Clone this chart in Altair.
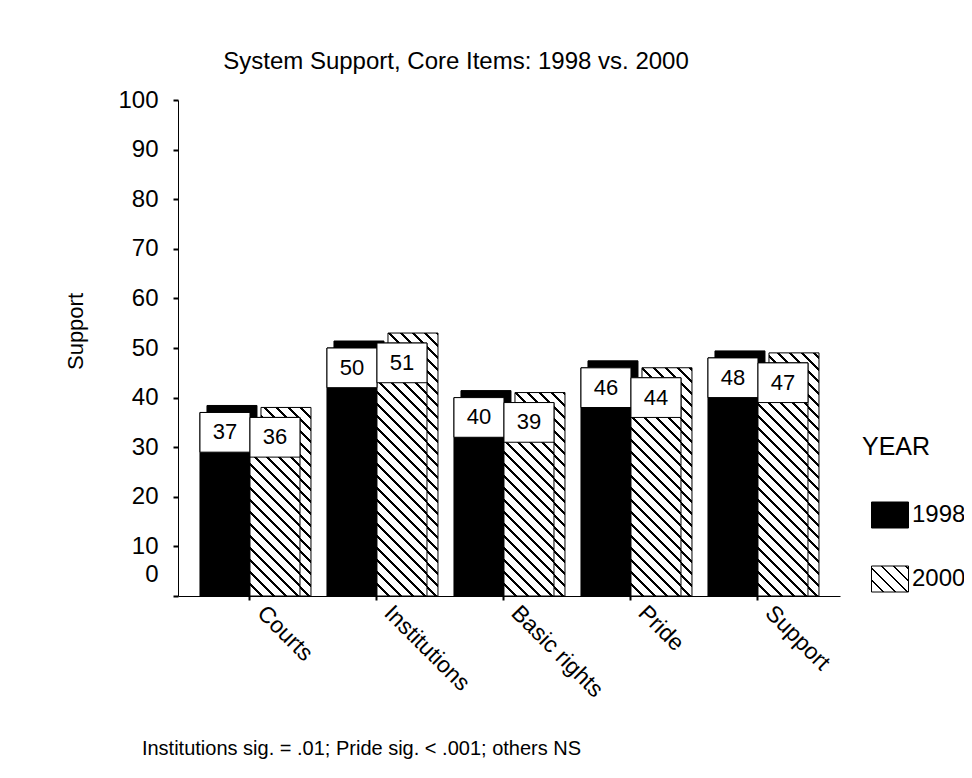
import math
import json
import altair as alt
import pandas as pd

# ---------------- data ----------------
categories = ["Courts", "Institutions", "Basic rights", "Pride", "Support"]
support_1998 = [37, 50, 40, 46, 48]
support_2000 = [36, 51, 39, 44, 47]
years = ["1998", "2000"]
y_tick_values = list(range(0, 101, 5))
title_text = "System Support, Core Items: 1998 vs. 2000"
footnote_text = "Institutions sig. = .01; Pride sig. < .001; others NS"

rows = []
for c, a, b in zip(categories, support_1998, support_2000):
    rows.append({"item": c, "year": "1998", "support": a})
    rows.append({"item": c, "year": "2000", "support": b})
df = pd.DataFrame(rows)

# ---------------- geometry / style ----------------
W, H = 662, 496
PX = H / 100.0          # pixels per unit
BAR_W = 50
BOX_UNITS = 8           # height of white value box, in data units
D98 = (7, 7)            # 3-D depth (right, up) of the 1998 bars, px
D00 = (11, 10)          # 3-D depth (right, up) of the 2000 bars, px
FONT = "Liberation Sans"


def hatch(w, h, period=12.0, lw=1.5):
    """Back-slash hatching drawn as a linear gradient (bounding-box units)."""
    k = (w + h) / (w * w + h * h)
    D = (w + h) / math.sqrt(2)
    P = period / math.sqrt(2)
    hw = lw / 2.0 / D
    stops = [{"offset": 0, "color": "white"}]
    j = 1
    while j * P < D:
        c = j * P / D
        lo, hi = round(max(c - hw, 0), 5), round(min(c + hw, 1), 5)
        stops += [
            {"offset": lo, "color": "white"},
            {"offset": lo, "color": "black"},
            {"offset": hi, "color": "black"},
            {"offset": hi, "color": "white"},
        ]
        j += 1
    stops.append({"offset": 1, "color": "white"})
    return {"gradient": "linear", "x1": 0, "y1": 1,
            "x2": round(w * k, 5), "y2": round(1 - h * k, 5), "stops": stops}


def fill_2000(extra_h, first=None):
    conds = [] if first is None else [first]
    for c, v in zip(categories, support_2000):
        conds.append({"test": f"datum.item === '{c}'",
                      "value": hatch(BAR_W, v * PX + extra_h)})
    return {"condition": conds, "value": "white"}


x_scale = alt.Scale(domain=categories, paddingInner=0.2126,
                    paddingOuter=0.2126, align=0.407)
y_scale = alt.Scale(domain=[0, 100], nice=False, zero=True)

x_axis = alt.Axis(
    labelAngle=45, labelAlign="left", labelBaseline="middle",
    labelFontSize=23, labelFont=FONT, labelColor="black", labelPadding=9,
    labelOffset=11,
    tickSize=4, tickWidth=2, tickColor="black",
    domainColor="black", domainWidth=1,
    title=footnote_text, titleFont=FONT, titleFontSize=20,
    titleFontWeight="normal", titleColor="black",
    titleX=183, titleY=152, titleAlign="center", titleBaseline="middle",
)
y_axis = alt.Axis(
    values=y_tick_values,
    labelExpr="datum.value % 10 === 0 ? datum.label : ''",
    labelFontSize=24, labelFont=FONT, labelColor="black", labelPadding=15,
    labelOffset={"condition": {"test": "datum.value === 0", "value": -22}, "value": 0},
    tickSize={"condition": {"test": "datum.value % 10 === 0", "value": 5}, "value": 3},
    tickWidth={"condition": {"test": "datum.value % 10 === 0", "value": 2}, "value": 1},
    tickColor="black", domainColor="black", domainWidth=1, grid=False,
    title="Support", titleFont=FONT, titleFontSize=22, titleFontWeight="normal",
    titleColor="black", titleAngle=270, titleX=-103, titleY=231,
    titleAlign="center", titleBaseline="middle",
)

base = alt.Chart(df)
X = alt.X("item:N", sort=categories, scale=x_scale, axis=x_axis)
XN = alt.X("item:N", sort=categories, scale=x_scale)
YN = alt.Y("support:Q", scale=y_scale, stack=None)
XOFF = alt.XOffset("year:N", sort=years,
                   scale=alt.Scale(domain=years, paddingInner=0, paddingOuter=0))

# back (depth) faces: raised through the y scale, shifted right
back98 = base.transform_filter("datum.year === '1998'").transform_calculate(
    top=f"datum.support + {D98[1] / PX}"
).mark_bar(
    width=BAR_W, xOffset=-BAR_W / 2 + D98[0],
    fill="black", stroke="black", strokeWidth=1
).encode(x=X, y=alt.Y("top:Q", scale=y_scale, stack=None, axis=y_axis), y2=alt.datum(0))

back00 = base.transform_filter("datum.year === '2000'").transform_calculate(
    top=f"datum.support + {D00[1] / PX}"
).mark_bar(
    width=BAR_W, xOffset=BAR_W / 2 + D00[0], stroke="black", strokeWidth=1
).encode(x=XN, y=alt.Y("top:Q", scale=y_scale, stack=None), y2=alt.datum(0),
         fill=fill_2000(D00[1]))

# front faces
front = base.mark_bar(stroke="black", strokeWidth=1).encode(
    x=XN, xOffset=XOFF, y=YN,
    fill=fill_2000(0, first={"test": "datum.year === '1998'", "value": "black"}),
)

# white value boxes and numbers
boxes = base.transform_calculate(low=f"datum.support - {BOX_UNITS}").mark_bar(
    fill="white", stroke="black", strokeWidth=1
).encode(x=XN, xOffset=XOFF, y=YN, y2="low:Q")

nums = base.transform_calculate(mid=f"datum.support - {BOX_UNITS / 2}").mark_text(
    font=FONT, fontSize=22, color="black", baseline="middle", align="center"
).encode(x=XN, xOffset=XOFF, y=alt.Y("mid:Q", scale=y_scale), text="support:Q")

# legend-only layer
legend_range = ["black", {"expr": json.dumps(hatch(37, 26))}]
legend_layer = base.transform_filter("false").mark_bar().encode(
    x=XN, y=YN,
    fill=alt.Fill(
        "year:N",
        scale=alt.Scale(domain=years, range=legend_range),
        legend=alt.Legend(
            title="YEAR", orient="none", legendX=684, legendY=335,
            titleFont=FONT, titleFontSize=25, titleFontWeight="normal",
            titleColor="black", titlePadding=36,
            labelFont=FONT, labelFontSize=24, labelColor="black", labelOffset=3,
            symbolType="M-1,-0.7027L1,-0.7027L1,0.7027L-1,0.7027Z",
            symbolSize=1369, symbolStrokeColor="black", symbolStrokeWidth=1,
            symbolOpacity=1, symbolOffset=9, rowPadding=30, padding=0, offset=0,
        ),
    ),
)

chart = alt.layer(back98, back00, front, boxes, nums, legend_layer).properties(
    width=W, height=H,
    title=alt.TitleParams(title_text, font=FONT, fontSize=24, fontWeight="normal",
                          color="black", anchor="middle", dx=-53, offset=14),
    autosize=alt.AutoSizeParams(type="none"),
    padding={"left": 170, "top": 92, "right": 124, "bottom": 174},
    background="white",
).configure_view(stroke=None)

chart.save("out.html", embed_options={"renderer": "svg", "actions": False})
